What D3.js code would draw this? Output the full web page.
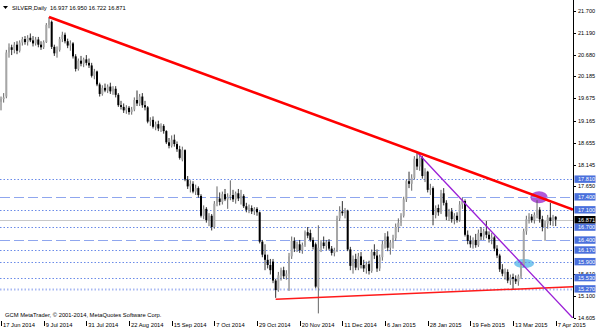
<!DOCTYPE html>
<html>
<head>
<meta charset="utf-8">
<script src="https://cdn.jsdelivr.net/npm/d3@7"></script>
<style>
  body { margin: 0; background: #fff; }
  text { font-family: "Liberation Sans", Arial, sans-serif; }
</style>
</head>
<body>
<div id="chart"></div>
<script>
var symbolTitle = "SILVER,Daily";
var lastQuote = ["16.937", "16.950", "16.722", "16.871"];
var copyrightText = "GCM MetaTrader, \u00a9 2001-2014, MetaQuotes Software Corp.";

// time axis: one label every 16 bars
var dateLabels = ["17 Jun 2014", "9 Jul 2014", "31 Jul 2014", "22 Aug 2014", "15 Sep 2014", "7 Oct 2014",
  "29 Oct 2014", "20 Nov 2014", "11 Dec 2014", "6 Jan 2015", "28 Jan 2015", "19 Feb 2015", "13 Mar 2015", "7 Apr 2015"];
var dateTickBars = [0, 16, 32, 48, 64, 80, 96, 112, 128, 144, 160, 176, 192, 208];

var priceTicks = [21.700, 21.190, 20.680, 20.185, 19.675, 19.165, 18.655, 18.145, 17.650,
  15.610, 15.100, 14.605];
var dottedLevels = [17.810, 17.100, 16.700, 16.170, 15.900, 15.530, 15.270];
var dashedLevels = [17.400, 16.400];
var lastPrice = 16.871;

// daily candles [open, high, low, close]
var candles = [
  [19.60,19.72,19.40,19.66],[19.66,19.80,19.58,19.70],[19.72,20.80,19.68,20.74],[20.74,20.95,20.62,20.86],
  [20.86,20.92,20.68,20.80],[20.80,20.98,20.72,20.92],[20.92,21.00,20.70,20.78],[20.78,21.02,20.74,20.97],
  [20.97,21.10,20.90,21.05],[21.05,21.12,20.92,20.98],[20.98,21.14,20.90,21.08],[21.08,21.18,20.98,21.02],
  [21.02,21.12,20.88,20.95],[20.95,21.10,20.90,21.04],[21.04,21.10,20.86,20.92],[20.92,21.00,20.80,20.86],
  [20.86,21.02,20.82,20.98],[20.98,21.42,20.96,21.38],[21.38,21.56,21.30,21.48],[21.45,21.48,20.82,20.87],
  [20.87,20.92,20.66,20.72],[20.72,20.88,20.62,20.80],[20.80,21.10,20.76,21.05],[21.05,21.22,20.98,21.15],
  [21.15,21.20,20.95,21.00],[21.00,21.06,20.84,20.90],[20.90,21.02,20.78,20.95],[20.95,20.98,20.60,20.65],
  [20.65,20.70,20.30,20.36],[20.36,20.60,20.32,20.55],[20.55,20.66,20.42,20.48],[20.48,20.62,20.40,20.58],
  [20.58,20.68,20.44,20.50],[20.50,20.60,20.38,20.44],[20.44,20.50,20.16,20.20],[20.20,20.36,20.12,20.30],
  [20.30,20.32,19.96,20.00],[20.00,20.04,19.72,19.78],[19.78,19.98,19.74,19.92],[19.92,20.02,19.82,19.86],
  [19.86,20.00,19.80,19.95],[19.95,20.04,19.78,19.84],[19.84,19.96,19.76,19.90],[19.90,19.96,19.70,19.76],
  [19.76,19.80,19.48,19.52],[19.52,19.62,19.42,19.48],[19.48,19.56,19.34,19.40],[19.40,19.52,19.32,19.46],
  [19.46,19.50,19.30,19.36],[19.36,19.48,19.30,19.42],[19.42,19.70,19.38,19.64],[19.64,19.86,19.50,19.56],
  [19.56,19.78,19.50,19.72],[19.72,19.80,19.46,19.52],[19.52,19.62,19.40,19.47],[19.47,19.50,19.10,19.14],
  [19.14,19.24,19.04,19.18],[19.18,19.26,18.98,19.02],[19.02,19.14,18.94,19.08],[19.08,19.16,18.92,18.98],
  [18.98,19.10,18.90,19.04],[19.04,19.08,18.86,18.92],[18.92,18.94,18.62,18.66],[18.66,18.76,18.52,18.58],
  [18.58,18.82,18.54,18.72],[18.72,18.84,18.56,18.62],[18.62,18.68,18.44,18.50],[18.50,18.58,18.26,18.30],
  [18.26,18.56,18.22,18.48],[18.48,18.50,17.76,17.80],[17.80,17.88,17.58,17.64],[17.64,17.78,17.50,17.70],
  [17.70,17.76,17.48,17.52],[17.52,17.68,17.44,17.60],[17.60,17.64,17.38,17.44],[17.42,17.46,16.92,16.96],
  [16.96,17.20,16.88,17.12],[17.12,17.16,16.80,16.86],[16.86,17.02,16.72,16.96],[16.96,17.00,16.62,16.70],
  [16.70,17.30,16.66,17.24],[17.24,17.64,17.18,17.36],[17.36,17.50,17.20,17.28],[17.28,17.52,17.22,17.46],
  [17.46,17.58,17.30,17.34],[17.34,17.48,17.12,17.40],[17.40,17.78,17.32,17.44],[17.44,17.56,17.28,17.34],
  [17.34,17.52,17.24,17.48],[17.48,17.58,17.30,17.36],[17.36,17.56,17.22,17.42],[17.42,17.46,17.14,17.18],
  [17.18,17.26,17.04,17.10],[17.10,17.22,17.02,17.14],[17.14,17.20,17.00,17.06],[17.06,17.16,16.98,17.12],
  [17.12,17.16,16.96,17.04],[17.04,17.06,16.32,16.36],[16.36,16.40,16.00,16.06],[16.06,16.30,15.70,15.94],
  [15.94,16.06,15.74,15.82],[15.82,15.96,15.60,15.70],[15.90,15.96,15.40,15.46],[15.46,15.50,15.06,15.24],
  [15.24,15.66,15.20,15.58],[15.58,15.76,15.46,15.70],[15.70,15.78,15.50,15.56],[15.56,15.70,15.48,15.62],
  [15.62,16.10,15.22,16.02],[16.02,16.48,15.96,16.38],[16.38,16.46,16.12,16.20],[16.20,16.36,16.12,16.30],
  [16.30,16.40,16.10,16.16],[16.16,16.34,16.08,16.28],[16.28,16.62,16.24,16.58],[16.58,16.70,16.44,16.50],
  [16.56,16.64,16.36,16.40],[16.40,16.46,16.18,16.24],[16.30,16.34,15.28,15.32],[15.30,16.74,14.70,16.22],
  [16.22,16.40,16.12,16.34],[16.34,16.48,16.20,16.26],[16.26,16.40,16.16,16.36],[16.36,16.42,16.16,16.20],
  [16.20,16.26,16.04,16.10],[16.10,16.22,16.02,16.16],[16.16,16.96,16.12,16.90],[16.90,17.18,16.84,17.06],
  [17.06,17.30,16.96,17.02],[17.02,17.14,16.90,17.08],[17.08,17.10,16.14,16.18],[16.18,16.24,15.70,15.80],
  [15.80,16.04,15.62,15.96],[15.96,16.08,15.70,15.76],[15.76,16.10,15.70,16.02],[16.02,16.12,15.74,15.82],
  [15.82,15.94,15.66,15.74],[15.74,15.90,15.62,15.84],[15.84,15.92,15.60,15.68],[15.68,16.18,15.64,16.12],
  [16.12,16.30,15.96,16.04],[16.04,16.18,15.66,15.74],[15.74,16.06,15.68,16.00],[16.00,16.38,15.92,16.30],
  [16.30,16.56,16.20,16.48],[16.48,16.60,16.14,16.22],[16.22,16.40,16.06,16.34],[16.34,16.52,16.20,16.44],
  [16.44,16.78,16.38,16.70],[16.70,16.90,16.58,16.80],[16.80,17.02,16.72,16.96],[16.96,17.40,16.92,17.34],
  [17.34,17.80,17.28,17.76],[17.76,17.98,17.60,17.70],[17.70,17.92,17.54,17.84],[17.84,18.34,17.80,18.28],
  [18.28,18.43,18.02,18.10],[18.10,18.36,18.00,18.30],[18.30,18.34,17.82,17.88],[17.88,18.06,17.74,17.98],
  [17.98,18.00,17.50,17.56],[17.56,17.70,17.44,17.60],[17.60,17.64,16.74,16.98],[16.98,17.20,16.90,17.14],
  [17.14,17.22,16.96,17.04],[17.04,17.56,17.00,17.48],[17.48,17.60,17.20,17.26],[17.26,17.32,16.86,16.94],
  [16.94,17.12,16.84,17.06],[17.06,17.14,16.80,16.88],[16.88,17.02,16.76,16.96],[16.96,17.04,16.80,16.86],
  [16.86,17.30,16.82,17.22],[17.22,17.38,17.12,17.30],[17.30,17.34,16.48,16.52],[16.52,16.62,16.30,16.38],
  [16.38,16.50,16.22,16.30],[16.30,16.46,16.20,16.40],[16.40,16.54,16.22,16.28],[16.28,16.64,16.24,16.56],
  [16.56,16.70,16.40,16.48],[16.48,16.66,16.40,16.60],[16.60,16.84,16.44,16.52],[16.52,16.60,16.34,16.42],
  [16.42,16.56,16.30,16.46],[16.46,16.50,16.14,16.20],[16.20,16.28,15.98,16.04],[16.04,16.08,15.66,15.72],
  [15.72,15.84,15.56,15.62],[15.62,15.74,15.48,15.66],[15.66,15.72,15.40,15.46],[15.46,15.60,15.36,15.54],
  [15.54,15.62,15.26,15.50],[15.50,15.58,15.38,15.44],[15.44,15.60,15.34,15.56],[15.56,15.88,15.50,15.82],
  [15.82,16.66,15.78,16.60],[16.60,16.96,16.52,16.88],[16.88,17.02,16.78,16.94],[16.94,17.00,16.80,16.86],
  [16.86,17.04,16.78,16.98],[16.98,17.32,16.90,17.10],[17.10,17.16,16.80,16.88],[16.88,16.96,16.60,16.70],
  [16.70,16.84,16.38,16.78],[16.78,16.98,16.66,16.92],[16.92,17.26,16.74,16.84],[16.84,16.98,16.72,16.94],
  [16.937,16.950,16.722,16.871]
];

// objects drawn on the chart, anchored as [bar, price]
var resistanceLine = [[18, 21.56], [156, 18.43]];
var fallingLine = [[156, 18.43], [200, 15.54]];
var supportLine = [[103, 15.03], [192, 15.26]];
var topEllipse = [[198.5, 17.53], [205.0, 17.25]];
var bottomEllipse = [[192.4, 15.96], [199.9, 15.75]];

var w = 600, h = 333;
var plotRight = 573, plotTop = 2, plotBottom = 318;

var svg = d3.select("#chart").append("svg")
  .attr("width", w).attr("height", h);

var x = d3.scaleLinear().domain([0, 208]).range([1, 555.7]);
var y = d3.scaleLinear().domain([14.605, 21.7]).range([317.5, 11]);
var lastBar = x.invert(plotRight);

svg.append("clipPath").attr("id", "plotclip")
  .append("rect").attr("x", 0).attr("y", plotTop)
  .attr("width", plotRight).attr("height", plotBottom - plotTop);

var plot = svg.append("g").attr("clip-path", "url(#plotclip)");

// ellipses sit behind everything else
function drawEllipse(pts, fill) {
  plot.append("ellipse")
    .attr("cx", (x(pts[0][0]) + x(pts[1][0])) / 2)
    .attr("cy", (y(pts[0][1]) + y(pts[1][1])) / 2)
    .attr("rx", Math.abs(x(pts[1][0]) - x(pts[0][0])) / 2)
    .attr("ry", Math.abs(y(pts[1][1]) - y(pts[0][1])) / 2)
    .attr("fill", fill);
}
drawEllipse(topEllipse, "#b05ad8");
drawEllipse(bottomEllipse, "#7cc8ee");

// horizontal levels
plot.selectAll("line.dotted").data(dottedLevels).enter().append("line")
  .attr("class", "dotted")
  .attr("x1", 0).attr("x2", plotRight)
  .attr("y1", function(d) { return Math.round(y(d)) + 0.5; })
  .attr("y2", function(d) { return Math.round(y(d)) + 0.5; })
  .attr("stroke", function(d) { return d == 15.27 ? "#a9b9f2" : "#6a8be8"; })
  .attr("stroke-width", function(d) { return d == 15.27 ? 2 : 1; })
  .attr("stroke-dasharray", "1.5,2");

plot.selectAll("line.dashed").data(dashedLevels).enter().append("line")
  .attr("class", "dashed")
  .attr("x1", 0).attr("x2", plotRight)
  .attr("y1", function(d) { return Math.round(y(d)) + 0.5; })
  .attr("y2", function(d) { return Math.round(y(d)) + 0.5; })
  .attr("stroke", "#8fa6ee")
  .attr("stroke-width", 1)
  .attr("stroke-dasharray", "10,4");

plot.append("line")
  .attr("x1", 0).attr("x2", plotRight)
  .attr("y1", Math.round(y(lastPrice)) + 0.5).attr("y2", Math.round(y(lastPrice)) + 0.5)
  .attr("stroke", "#c8c8c8");

// candles
var bars = plot.append("g").selectAll("g").data(candles).enter().append("g");
bars.append("line")
  .attr("x1", function(d, i) { return x(i); })
  .attr("x2", function(d, i) { return x(i); })
  .attr("y1", function(d) { return y(d[1]); })
  .attr("y2", function(d) { return y(d[2]); })
  .attr("stroke", function(d) { return d[3] >= d[0] ? "#555" : "#1a1a1a"; })
  .attr("stroke-width", 0.9);
bars.append("rect")
  .attr("x", function(d, i) { return x(i) - 1; })
  .attr("width", 2)
  .attr("y", function(d) { return y(Math.max(d[0], d[3])); })
  .attr("height", function(d) { return Math.max(0.7, Math.abs(y(d[0]) - y(d[3]))); })
  .attr("fill", function(d) { return d[3] >= d[0] ? "#a6a6a6" : "#000"; });

// trend lines extended as rays to the right edge
function drawRay(pts, color, width) {
  var slope = (pts[1][1] - pts[0][1]) / (pts[1][0] - pts[0][0]);
  plot.append("line")
    .attr("x1", x(pts[0][0])).attr("y1", y(pts[0][1]))
    .attr("x2", x(lastBar)).attr("y2", y(pts[0][1] + slope * (lastBar - pts[0][0])))
    .attr("stroke", color)
    .attr("stroke-width", width);
}
drawRay(supportLine, "#ff1a1a", 1.5);
drawRay(fallingLine, "#9a1ed6", 1.3);
drawRay(resistanceLine, "#ff0000", 2.6);

// separator of the price scale
svg.append("line").attr("x1", plotRight + 0.5).attr("x2", plotRight + 0.5)
  .attr("y1", 0).attr("y2", plotBottom).attr("stroke", "#000");

// price scale
var pAxis = svg.append("g");
pAxis.selectAll("line").data(priceTicks).enter().append("line")
  .attr("x1", plotRight + 1).attr("x2", plotRight + 3)
  .attr("y1", function(d) { return Math.round(y(d)) + 0.5; })
  .attr("y2", function(d) { return Math.round(y(d)) + 0.5; })
  .attr("stroke", "#000");
pAxis.selectAll("text").data(priceTicks).enter().append("text")
  .attr("x", plotRight + 5)
  .attr("y", function(d) { return y(d) + 2; })
  .attr("font-size", 5.6)
  .attr("fill", "#000")
  .text(function(d) { return d3.format(".3f")(d); });

// coloured price labels of the levels
var levelLabels = dottedLevels.concat(dashedLevels);
var lbl = svg.append("g").selectAll("g").data(levelLabels).enter().append("g");
lbl.append("rect")
  .attr("x", plotRight + 1.5).attr("width", 21)
  .attr("y", function(d) { return y(d) - 3.6; }).attr("height", 7.4)
  .attr("fill", "#4a70dc");
lbl.append("text")
  .attr("x", plotRight + 5)
  .attr("y", function(d) { return y(d) + 2; })
  .attr("font-size", 5.6).attr("fill", "#fff")
  .text(function(d) { return d3.format(".3f")(d); });

svg.append("rect")
  .attr("x", plotRight + 1.5).attr("width", 21)
  .attr("y", y(lastPrice) - 3.6).attr("height", 7.4)
  .attr("fill", "#000");
svg.append("text")
  .attr("x", plotRight + 5).attr("y", y(lastPrice) + 2)
  .attr("font-size", 5.6).attr("fill", "#fff")
  .text(d3.format(".3f")(lastPrice));

// time scale
var tAxis = svg.append("g");
tAxis.selectAll("line").data(dateTickBars).enter().append("line")
  .attr("x1", function(d) { return Math.round(x(d)) + 0.5; })
  .attr("x2", function(d) { return Math.round(x(d)) + 0.5; })
  .attr("y1", plotBottom + 3).attr("y2", plotBottom + 8)
  .attr("stroke", "#000");
tAxis.selectAll("text").data(dateLabels).enter().append("text")
  .attr("x", function(d, i) { return x(dateTickBars[i]) + 2; })
  .attr("y", plotBottom + 9)
  .attr("font-size", 5.8)
  .attr("fill", "#000")
  .text(function(d) { return d; });

// header and copyright
svg.append("path").attr("d", "M3,6 L8,6 L5.5,9 Z").attr("fill", "#000");
svg.append("text")
  .attr("x", 12).attr("y", 9.5).attr("font-size", 5.8).attr("fill", "#000")
  .attr("xml:space", "preserve")
  .text(symbolTitle + "  " + lastQuote.join(" "));
svg.append("text")
  .attr("x", 5).attr("y", 316.5).attr("font-size", 5.8).attr("fill", "#000")
  .text(copyrightText);
</script>
</body>
</html>
